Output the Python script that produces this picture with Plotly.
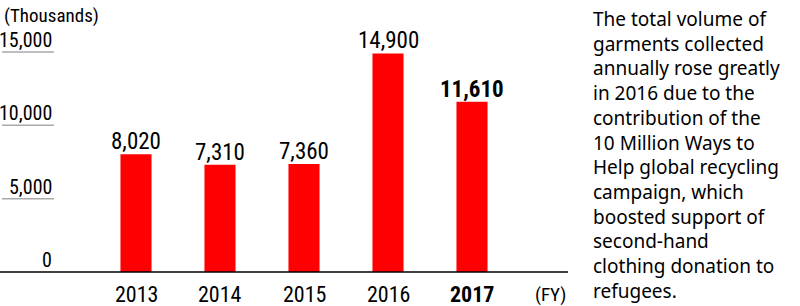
import plotly.graph_objects as go

years = ["2013", "2014", "2015", "2016", "2017"]
values = [8020, 7310, 7360, 14900, 11610]
value_labels = ["8,020", "7,310", "7,360", "14,900", "11,610"]
y_ticks = [0, 5000, 10000, 15000]
y_tick_labels = ["0", "5,000", "10,000", "15,000"]
note_lines = [
    "The total volume of", "garments collected", "annually rose greatly",
    "in 2016 due to the", "contribution of the", "10 Million Ways to",
    "Help global recycling", "campaign, which", "boosted support of",
    "second-hand", "clothing donation to", "refugees.",
]

NARROW = "Liberation Sans Narrow, Arial Narrow, Roboto Condensed, sans-serif"
RED = "#ff0000"
W, H = 800, 306
x_pos = list(range(len(years)))

fig = go.Figure()
fig.add_trace(go.Bar(x=x_pos, y=values, width=0.37, marker=dict(color=RED, line=dict(width=0)),
                     hoverinfo="skip"))

ann = []
for i, (v, lab) in enumerate(zip(values, value_labels)):
    bold = i == len(values) - 1
    ann.append(dict(x=i, y=v, xref="x", yref="y", text=f"<b>{lab}</b>" if bold else lab,
                    showarrow=False, yanchor="bottom", xanchor="center", yshift=-3,
                    font=dict(family=NARROW, size=23, color="#000")))
    ann.append(dict(x=i, y=-1500, xref="x", yref="y", text=f"<b>{years[i]}</b>" if bold else years[i],
                    showarrow=False, yanchor="middle", xanchor="center",
                    font=dict(family=NARROW, size=22, color="#000")))
ann.append(dict(x=568 / W, y=-1500, xref="paper", yref="y", text="(FY)", showarrow=False,
                xanchor="right", yanchor="middle", font=dict(family=NARROW, size=19, color="#000")))

for t, lab in zip(y_ticks, y_tick_labels):
    ann.append(dict(x=54 / W, y=t, xref="paper", yref="y", text=lab, showarrow=False,
                    xanchor="right", yanchor="bottom", yshift=-2,
                    font=dict(family=NARROW, size=20, color="#000")))
ann.append(dict(x=2 / W, y=1 - 2 / H, xref="paper", yref="paper", text="(Thousands)", showarrow=False,
                xanchor="left", yanchor="top", font=dict(family=NARROW, size=19, color="#000")))
ann.append(dict(x=591 / W, y=1 - 4 / H, xref="paper", yref="paper", text="<br>".join(note_lines),
                showarrow=False, xanchor="left", yanchor="top", align="left",
                font=dict(family="Noto Sans, Liberation Sans, Arial, sans-serif", size=19, color="#000")))

shapes = [dict(type="line", xref="paper", yref="y", x0=0, x1=568 / W, y0=0, y1=0,
               line=dict(color="#000", width=1.5))]
for t in y_ticks[1:]:
    shapes.append(dict(type="line", xref="paper", yref="y", x0=2 / W, x1=54 / W, y0=t, y1=t,
                       line=dict(color="#aaaaaa", width=1.5)))

px_per_unit = 220 / 15000
fig.update_layout(
    width=W, height=H, margin=dict(l=0, r=0, t=0, b=0),
    paper_bgcolor="white", plot_bgcolor="white", showlegend=False,
    xaxis=dict(domain=[0, 568 / W], range=[-136 / 84, -136 / 84 + 568 / 84], visible=False),
    yaxis=dict(domain=[0, 1], range=[-34 / px_per_unit, 272 / px_per_unit], visible=False),
    annotations=ann, shapes=shapes,
)
fig.write_html("out.html")
